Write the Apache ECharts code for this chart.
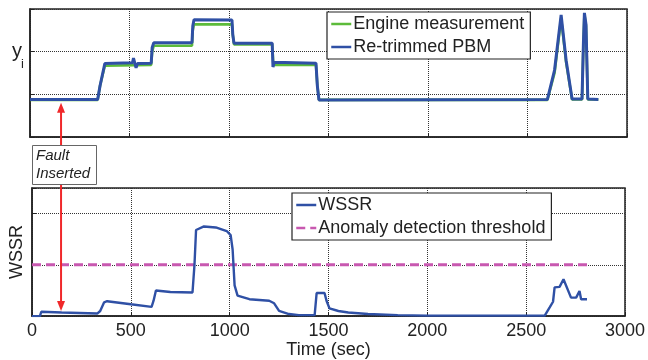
<!DOCTYPE html>
<html><head><meta charset="utf-8">
<script src="https://cdn.jsdelivr.net/npm/echarts@6/dist/echarts.min.js"></script>
<style>html,body{margin:0;padding:0;background:#fff}#c{width:648px;height:360px}</style>
</head><body><div id="c"></div><script>
// ---- data ----
const xTicks = [0, 500, 1000, 1500, 2000, 2500, 3000];
const engineTime = [0, 340, 352, 376, 384, 609, 614, 622, 814, 818, 824, 1015, 1019, 1025, 1217, 1223, 1437, 1444, 1452, 2600, 2636, 2669, 2694, 2724, 2774, 2781, 2786, 2794, 2803, 2856];
const engineVal  = [0.87, 0.87, 1.2, 1.67, 1.69, 1.69, 2.0, 2.14, 2.14, 2.5, 2.64, 2.64, 2.4, 2.17, 2.17, 1.69, 1.69, 1.2, 0.87, 0.87, 1.5, 2.78, 1.75, 0.88, 0.88, 2.2, 2.88, 2.6, 0.88, 0.88];
const pbmTime = [0, 340, 352, 376, 384, 515, 520, 527, 533, 540, 609, 614, 622, 814, 818, 824, 1015, 1019, 1025, 1217, 1221, 1227, 1233, 1437, 1444, 1452, 2600, 2636, 2669, 2694, 2724, 2774, 2781, 2786, 2794, 2803, 2856];
const pbmVal  = [0.88, 0.88, 1.2, 1.72, 1.75, 1.74, 1.85, 1.84, 1.62, 1.72, 1.73, 2.1, 2.21, 2.21, 2.6, 2.75, 2.74, 2.4, 2.2, 2.2, 1.64, 1.75, 1.73, 1.73, 1.2, 0.87, 0.88, 1.57, 2.86, 1.8, 0.89, 0.89, 2.2, 2.91, 2.64, 0.89, 0.88];
const wssrTime = [0, 40, 47, 150, 330, 345, 365, 380, 500, 605, 615, 627, 700, 812, 822, 830, 870, 930, 985, 1005, 1015, 1025, 1040, 1100, 1200, 1225, 1250, 1300, 1350, 1430, 1440, 1480, 1490, 1505, 1550, 1600, 1700, 1850, 2000, 2594, 2619, 2636, 2644, 2669, 2689, 2727, 2753, 2770, 2778, 2808];
const wssrVal  = [0, 0, 0.085, 0.07, 0.05, 0.1, 0.27, 0.29, 0.23, 0.18, 0.3, 0.5, 0.47, 0.46, 1.0, 1.68, 1.75, 1.73, 1.66, 1.58, 1.3, 0.6, 0.4, 0.33, 0.3, 0.25, 0.1, 0.04, 0.02, 0.02, 0.45, 0.45, 0.3, 0.15, 0.1, 0.07, 0.04, 0.02, 0.01, 0.01, 0.17, 0.28, 0.56, 0.57, 0.72, 0.36, 0.36, 0.49, 0.33, 0.33];
const thresholdTime = [0, 2810];
const thresholdVal = [1, 1];
const faultTime = 156;

const pairs = (xs, ys) => xs.map((x, i) => [x, ys[i]]);
const FONT = "'Liberation Sans', Arial, sans-serif";
const BLUE = '#2f50a5', GREEN = '#5cbb3a', PINK = '#c858b0', RED = '#f0282a';

const chart = echarts.init(document.getElementById('c'), null, {renderer: 'canvas'});

function xAx(i) {
  return {
    gridIndex: i, type: 'value', min: 0, max: 3000, interval: 500,
    axisLine: {show: true, onZero: false, lineStyle: {color: '#222', width: 1.5}},
    axisTick: {show: true, inside: true, length: 4, lineStyle: {color: '#222'}},
    axisLabel: {show: i === 1, fontSize: 18, color: '#222', margin: 6, fontFamily: FONT, formatter: v => String(v)},
    splitLine: {show: true, lineStyle: {type: 'dotted', color: '#333', width: 1}},
    name: i === 1 ? 'Time (sec)' : '', nameLocation: 'middle', nameGap: 22,
    nameTextStyle: {fontSize: 18, color: '#222', fontFamily: FONT}
  };
}
function yAx(i, max) {
  return {
    gridIndex: i, type: 'value', min: 0, max: max, interval: 1,
    axisLine: {show: true, lineStyle: {color: '#222', width: 1.5}},
    axisTick: {show: true, inside: true, length: 4, lineStyle: {color: '#222'}},
    axisLabel: {show: false},
    splitLine: {show: true, lineStyle: {type: 'dotted', color: '#333', width: 1}},
    name: i === 1 ? 'WSSR' : '', nameLocation: 'middle', nameGap: 6, nameRotate: 90,
    nameTextStyle: {fontSize: 18, color: '#222', fontFamily: FONT}
  };
}
const legendBase = {
  orient: 'vertical', backgroundColor: '#fff', borderColor: '#222', borderWidth: 1.2, padding: [3, 6, 3, 3],
  itemGap: 5, itemWidth: 20, itemHeight: 14, itemStyle: {opacity: 0}, lineStyle: {width: 2.5},
  textStyle: {fontSize: 18, color: '#222', fontFamily: FONT, padding: [0, 0, 0, -3]}
};

chart.setOption({
  animation: false,
  backgroundColor: '#fff',
  grid: [
    {left: 30, top: 9, width: 597, height: 128, show: true, borderColor: '#222', borderWidth: 1.5},
    {left: 30, top: 188, width: 597, height: 129, show: true, borderColor: '#222', borderWidth: 1.5}
  ],
  xAxis: [xAx(0), xAx(1)],
  yAxis: [yAx(0, 3), yAx(1, 2.5)],
  legend: [
    Object.assign({}, legendBase, {data: ['Engine measurement', 'Re-trimmed PBM'], left: 327, top: 12}),
    Object.assign({}, legendBase, {data: ['WSSR', 'Anomaly detection threshold'], left: 292, top: 193})
  ],
  series: [
    {name: 'Engine measurement', type: 'line', xAxisIndex: 0, yAxisIndex: 0, data: pairs(engineTime, engineVal),
     symbol: 'none', lineStyle: {color: GREEN, width: 2.6}, itemStyle: {color: GREEN}},
    {name: 'Re-trimmed PBM', type: 'line', xAxisIndex: 0, yAxisIndex: 0, data: pairs(pbmTime, pbmVal),
     symbol: 'none', lineStyle: {color: BLUE, width: 3}, itemStyle: {color: BLUE}},
    {name: 'WSSR', type: 'line', xAxisIndex: 1, yAxisIndex: 1, data: pairs(wssrTime, wssrVal),
     symbol: 'none', lineStyle: {color: BLUE, width: 2.4}, itemStyle: {color: BLUE}, z: 3},
    {name: 'Anomaly detection threshold', type: 'line', xAxisIndex: 1, yAxisIndex: 1, data: pairs(thresholdTime, thresholdVal),
     symbol: 'none', lineStyle: {color: PINK, width: 3, type: [9, 5]}, itemStyle: {color: PINK}, z: 2}
  ]
});

const fx = chart.convertToPixel({xAxisIndex: 0}, faultTime);
const topTip = chart.convertToPixel({yAxisIndex: 0}, 0.8);
const botTip = chart.convertToPixel({yAxisIndex: 1}, 0.1);
const boxTop = 145, boxBot = 184;
chart.setOption({
  graphic: [
    {type: 'line', shape: {x1: fx, y1: topTip + 8, x2: fx, y2: boxTop}, style: {stroke: RED, lineWidth: 2}, z: 100},
    {type: 'polygon', shape: {points: [[fx, topTip], [fx - 4, topTip + 10], [fx + 4, topTip + 10]]}, style: {fill: RED}, z: 100},
    {type: 'line', shape: {x1: fx, y1: boxBot, x2: fx, y2: botTip - 8}, style: {stroke: RED, lineWidth: 2}, z: 100},
    {type: 'polygon', shape: {points: [[fx, botTip], [fx - 4, botTip - 10], [fx + 4, botTip - 10]]}, style: {fill: RED}, z: 100},
    {type: 'rect', shape: {x: 32.5, y: boxTop + 0.5, width: 64, height: boxBot - boxTop}, style: {fill: '#fff', stroke: '#666', lineWidth: 1}, z: 100},
    {type: 'text', x: 36, y: 156, style: {text: 'Fault', font: 'italic 15px ' + FONT, fill: '#222', verticalAlign: 'middle'}, z: 101},
    {type: 'text', x: 36, y: 174, style: {text: 'Inserted', font: 'italic 15px ' + FONT, fill: '#222', verticalAlign: 'middle'}, z: 101},
    {type: 'text', x: 12, y: 51, style: {text: 'y', font: '20px ' + FONT, fill: '#222', verticalAlign: 'middle'}, z: 101},
    {type: 'text', x: 21, y: 64, style: {text: 'i', font: '13px ' + FONT, fill: '#222', verticalAlign: 'middle'}, z: 101}
  ]
});
</script></body></html>
